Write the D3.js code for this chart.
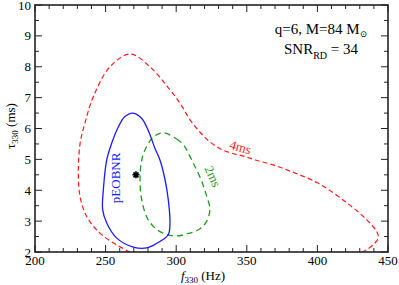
<!DOCTYPE html>
<html>
<head>
<meta charset="utf-8">
<script src="https://cdn.jsdelivr.net/npm/d3@7"></script>
<style>
  body { margin: 0; background: #fff; }
  text { font-family: "Liberation Serif", "DejaVu Serif", serif; }
</style>
</head>
<body>
<div id="chart"></div>
<script>
// 4ms contour (red dashed, open at the bottom)
var c4F   = [272, 266.1, 257.8, 246, 236.6, 231.9, 230.7, 231.9, 235.4, 241.3, 253.1, 267.3, 281.4, 295.6, 302.7, 309.8, 316.9, 323, 332, 340, 349, 356, 366.4, 376, 400, 420.9, 435, 442.2, 443, 439.4, 432.3, 426];
var c4Tau = [1.85, 2.02, 2.23, 2.61, 3.15, 3.8, 4.55, 5.5, 6.18, 7.03, 8.0, 8.41, 8.0, 7.25, 6.82, 6.28, 5.88, 5.6, 5.32, 5.19, 5.09, 4.98, 4.85, 4.7, 4.24, 3.59, 3.04, 2.65, 2.45, 2.23, 2.0, 1.85];
// 2ms contour (green dashed, closed)
var c2F   = [291, 300.3, 305.5, 309.8, 313.3, 318, 321.6, 323.9, 321.6, 316.9, 308.6, 299.2, 288.5, 280.2, 275.6, 274.4, 275.6, 279.1, 284.5];
var c2Tau = [5.86, 5.66, 5.45, 5.09, 4.77, 4.3, 3.8, 3.4, 3.0, 2.75, 2.6, 2.52, 2.66, 3.04, 3.69, 4.34, 4.98, 5.42, 5.75];
// pEOBNR contour (blue solid, closed)
var cpF   = [269.5, 275.5, 280.5, 285, 288.5, 292.1, 294.4, 295.6, 294.4, 288.5, 279.1, 269.6, 257.9, 250.8, 247.9, 248.4, 250.8, 254.3, 258.5, 263.5];
var cpTau = [6.5, 6.33, 5.9, 5.35, 4.98, 4.34, 3.69, 2.94, 2.56, 2.34, 2.13, 2.16, 2.45, 2.94, 3.37, 4.01, 4.98, 5.52, 6.0, 6.38];
// injected value
var starF = 271.5, starTau = 4.5;

var xTicks = [200, 250, 300, 350, 400, 450];
var yTicks = [2, 3, 4, 5, 6, 7, 8, 9, 10];

var W = 399, H = 285;
var x = d3.scaleLinear().domain([200, 450]).range([35, 388]);
var y = d3.scaleLinear().domain([2, 10]).range([252, 5]);

var svg = d3.select("#chart").append("svg").attr("width", W).attr("height", H);

svg.append("clipPath").attr("id", "clip")
  .append("rect").attr("x", 35).attr("y", 5).attr("width", 353).attr("height", 247);

function pts(fs, ts) { return fs.map(function (f, i) { return [f, ts[i]]; }); }

var lineOpen = d3.line().x(function (d) { return x(d[0]); }).y(function (d) { return y(d[1]); })
  .curve(d3.curveCatmullRom.alpha(0.5));
var lineClosed = d3.line().x(function (d) { return x(d[0]); }).y(function (d) { return y(d[1]); })
  .curve(d3.curveCatmullRomClosed.alpha(0.5));

var g = svg.append("g").attr("clip-path", "url(#clip)");

g.append("path").attr("d", lineOpen(pts(c4F, c4Tau)))
  .attr("fill", "none").attr("stroke", "#ff1a1a").attr("stroke-width", 1.2)
  .attr("stroke-dasharray", "5,3");
g.append("path").attr("d", lineClosed(pts(c2F, c2Tau)))
  .attr("fill", "none").attr("stroke", "#1f9a1f").attr("stroke-width", 1.3)
  .attr("stroke-dasharray", "6,4");
g.append("path").attr("d", lineClosed(pts(cpF, cpTau)))
  .attr("fill", "none").attr("stroke", "#1a1aff").attr("stroke-width", 1.3);

// star marker
var starType = { draw: function (ctx, size) {
  var r = Math.sqrt(size) / 2;
  for (var i = 0; i < 4; i++) {
    var a = i * Math.PI / 4;
    ctx.moveTo(-r * Math.cos(a), -r * Math.sin(a));
    ctx.lineTo(r * Math.cos(a), r * Math.sin(a));
  }
}};
svg.append("path").attr("d", d3.symbol(starType, 50)())
  .attr("transform", "translate(" + x(starF) + "," + y(starTau) + ")")
  .attr("stroke", "#000").attr("stroke-width", 1.6);

// curve labels
function curveLabel(txt, f, t, ang, col) {
  svg.append("text").attr("transform", "translate(" + x(f) + "," + y(t) + ") rotate(" + ang + ")")
    .attr("text-anchor", "middle").attr("dy", "0.35em")
    .attr("font-size", 13).attr("fill", col)
    .text(txt);
}
curveLabel("4ms", 345.5, 5.4, 16, "#ff1a1a");
curveLabel("2ms", 326, 4.45, 66, "#1f9a1f");
curveLabel("pEOBNR", 256.7, 4.4, -90, "#1a1aff");

// axes frame and ticks
var axCol = "#222";
svg.append("rect").attr("x", 35).attr("y", 5).attr("width", 353).attr("height", 247)
  .attr("fill", "none").attr("stroke", axCol).attr("stroke-width", 1.6);

var xMinor = d3.range(200, 451, 10), yMinor = d3.range(2, 10.01, 0.5);
var tk = svg.append("g").attr("stroke", axCol).attr("stroke-width", 1);
xMinor.forEach(function (v) {
  var len = (v % 50 === 0) ? 7 : 4;
  tk.append("line").attr("x1", x(v)).attr("x2", x(v)).attr("y1", 252).attr("y2", 252 - len);
  tk.append("line").attr("x1", x(v)).attr("x2", x(v)).attr("y1", 5).attr("y2", 5 + len);
});
yMinor.forEach(function (v) {
  var len = (Math.abs(v - Math.round(v)) < 1e-6) ? 7 : 4;
  tk.append("line").attr("y1", y(v)).attr("y2", y(v)).attr("x1", 35).attr("x2", 35 + len);
  tk.append("line").attr("y1", y(v)).attr("y2", y(v)).attr("x1", 388).attr("x2", 388 - len);
});

svg.selectAll(".xl").data(xTicks).enter().append("text")
  .attr("x", function (d) { return x(d); }).attr("y", 265)
  .attr("text-anchor", "middle").attr("font-size", 13).text(function (d) { return d; });
svg.selectAll(".yl").data(yTicks).enter().append("text")
  .attr("x", 31).attr("y", function (d) { return y(d); }).attr("dy", "0.35em")
  .attr("text-anchor", "end").attr("font-size", 13).text(function (d) { return d; });

// axis titles
var xt = svg.append("text").attr("x", 203).attr("y", 280).attr("text-anchor", "middle").attr("font-size", 13);
xt.append("tspan").attr("font-style", "italic").text("f");
xt.append("tspan").attr("font-size", 9).attr("dy", 3).text("330");
xt.append("tspan").attr("dy", -3).text(" (Hz)");

var yt = svg.append("text").attr("transform", "translate(15,126) rotate(-90)")
  .attr("text-anchor", "middle").attr("font-size", 13);
yt.append("tspan").text("τ");
yt.append("tspan").attr("font-size", 9).attr("dy", 3).text("330");
yt.append("tspan").attr("dy", -3).text(" (ms)");

// annotation
var a1 = svg.append("text").attr("x", 321).attr("y", 34).attr("text-anchor", "middle").attr("font-size", 15);
a1.append("tspan").text("q=6, M=84 M");
a1.append("tspan").attr("font-size", 9).attr("dy", 3).text("⊙");
var a2 = svg.append("text").attr("x", 321).attr("y", 54).attr("text-anchor", "middle").attr("font-size", 15);
a2.append("tspan").text("SNR");
a2.append("tspan").attr("font-size", 10).attr("dy", 5).text("RD");
a2.append("tspan").attr("dy", -5).text(" = 34");
</script>
</body>
</html>
